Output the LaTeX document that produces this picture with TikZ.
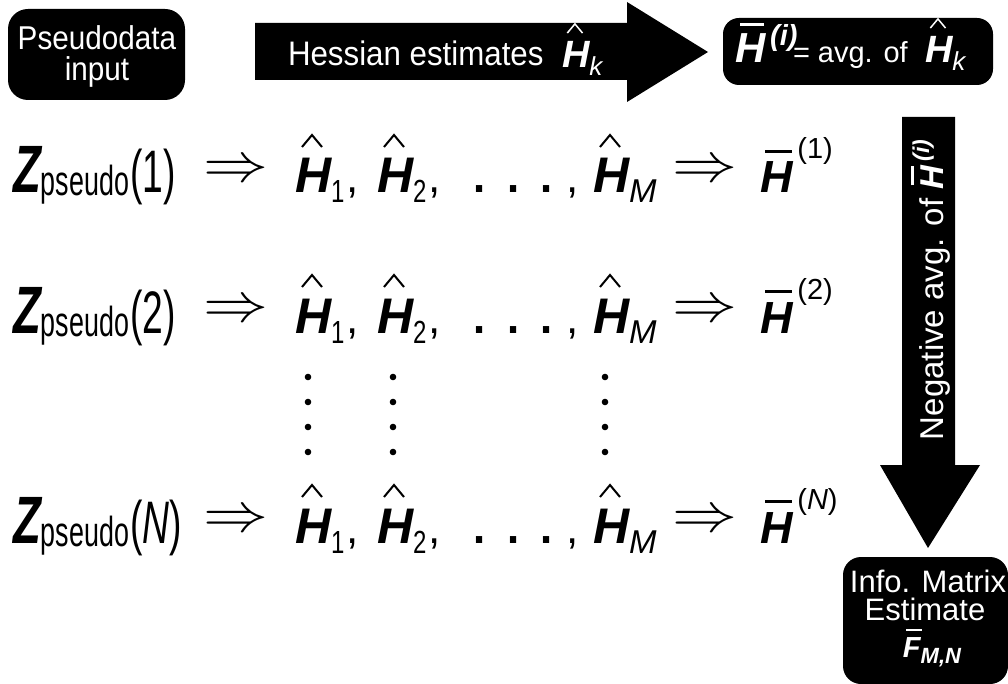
\documentclass[tikz,border=0pt]{standalone}
\usepackage{fontspec}
\usepackage{graphicx}
\setmainfont{Liberation Sans}
\usetikzlibrary{calc}
\newcommand\fs[1]{\fontsize{#1}{#1}\selectfont}
\newcommand\bi{\bfseries\itshape}
\newcommand\sx[2]{\scalebox{#1}[1]{#2}}
\newcommand\barH{\rlap{\hspace{0.12em}\raisebox{0.88em}{\rule{0.58em}{0.08em}}}{\bi H}}
\newcommand\barF{\rlap{\hspace{0.12em}\raisebox{0.88em}{\rule{0.52em}{0.08em}}}{\bi F}}
\newcommand\dimp{\fs{10}\scalebox{6.5}[5.5]{$\Rightarrow$}}
\newcommand\hatfor[3]{\draw[hatline,#1,line width=0.04*#3] ($(#2.base west)+(0.14*#3,-0.92*#3)$) -- ++(0.2*#3,-0.24*#3) -- ++(0.2*#3,0.24*#3);}
\newcommand\Row[4]{%
\node[tx] (#1z) at (13,#2) {{\fs{67}\bi\sx{0.68}{Z}}\raisebox{-3pt}{\fs{42}\sx{0.64}{pseudo}}\hspace{1pt}{\fs{60}\sx{0.62}{(#3)}}};
\node (#1a) at (235.5,#2-22) {\dimp};
\node[tx] (#1h1) at (295,#2) {{\fs{50}\bi H}\raisebox{-10pt}{\fs{32}\sx{0.75}{1}}};
\hatfor{black}{#1h1}{50}
\node[anchor=base,font=\fs{44}] (#1c1) at (353,#2) {,};
\node[tx] (#1h2) at (377,#2) {{\fs{50}\bi H}\raisebox{-10pt}{\fs{32}\sx{0.75}{2}}};
\hatfor{black}{#1h2}{50}
\node[anchor=base,font=\fs{44}] (#1c2) at (435,#2) {,};
\node[tx,font=\fs{65}] (#1d) at (470,#2) {\makebox[35pt][l]{.}\makebox[32pt][l]{.}.};
\node[anchor=base,font=\fs{44}] (#1c3) at (573,#2) {,};
\node[tx] (#1hm) at (593,#2) {{\fs{50}\bi H}\raisebox{-10pt}{\fs{33}\itshape M}};
\hatfor{black}{#1hm}{50}
\node (#1b) at (705,#2-22) {\dimp};
\node[tx] (#1hb) at (760,#2) {{\fs{45}\barH}\raisebox{34pt}{\fs{29}\,(#4)}};
}
\begin{document}
\begin{tikzpicture}[x=1pt,y=-1pt,
  every node/.style={inner sep=0pt,outer sep=0pt},
  tx/.style={anchor=base west},
  wt/.style={text=white},
  blk/.style={fill=black,rounded corners=#1},
  vdot/.style={fill=black},
  hatline/.style={line cap=butt,line join=miter}]
\useasboundingbox (0,0) rectangle (1008,684);
\fill[white] (0,0) rectangle (1008,684);

% Pseudodata box
\node[blk=20pt, minimum width=177pt, minimum height=91pt] (pd) at (96.5,54.5) {};
\node[wt,anchor=base,font=\fs{33}] (pd1) at (97,50) {\sx{0.9}{Pseudodata}};
\node[wt,anchor=base,font=\fs{33}] (pd2) at (97,81) {\sx{0.9}{input}};

% Big right arrow
\fill (255,23) -- (627,23) -- (627,2) -- (708,52) -- (627,102) -- (627,80) -- (255,80) -- cycle;
\node[tx,wt] (hess) at (288,66) {\fs{34}\sx{0.92}{Hessian estimates}};
\node[tx,wt] (hessH) at (562,68) {{\fs{38}\bi H}\raisebox{-8pt}{\fs{26}\itshape k}};
\hatfor{white}{hessH}{38}

% H-bar box
\node[blk=16pt, minimum width=270pt, minimum height=67pt] (hbox) at (858,51.5) {};
\node[tx,wt] (hb1) at (735,63) {{\fs{42}\barH}\raisebox{17pt}{\fs{29}\,{\bi (i)}}};
\node[tx,wt] (hb2) at (793,63) {\fs{29}= avg. of};
\node[tx,wt] (hb3) at (925,63) {{\fs{38}\bi H}\raisebox{-8pt}{\fs{26}\itshape k}};
\hatfor{white}{hb3}{38}

% Down arrow
\fill (902,117) -- (955,117) -- (955,465) -- (980,465) -- (928,548) -- (880,465) -- (902,465) -- cycle;
\node[tx,wt,rotate=90] (neg) at (943,440) {\fs{33}Negative avg. of \barH\raisebox{14pt}{\fs{23}\,{\bi (i)}}};

% Info box
\node[blk=18pt, minimum width=165pt, minimum height=127pt] (info) at (925.5,620.5) {};
\node[wt,anchor=base] (inf1) at (928,592) {\fs{31}Info. Matrix};
\node[wt,anchor=base] (inf2) at (925,620) {\fs{31}Estimate};
\node[wt,anchor=base] (inf3) at (932,657) {{\fs{29}\barF}\raisebox{-6pt}{\fs{22}\bi M,N}};

% Rows
\Row{ra}{193}{1}{1}
\Row{rb}{333}{2}{2}
\Row{rc}{543}{\textit{N}}{\textit{N}}

% Vertical dots
\foreach \cx in {308,393,605}{
  \foreach \yy in {377,402,427,452}{
    \fill[vdot] (\cx,\yy) circle[radius=3.3pt];
  }
}
\end{tikzpicture}
\end{document}
